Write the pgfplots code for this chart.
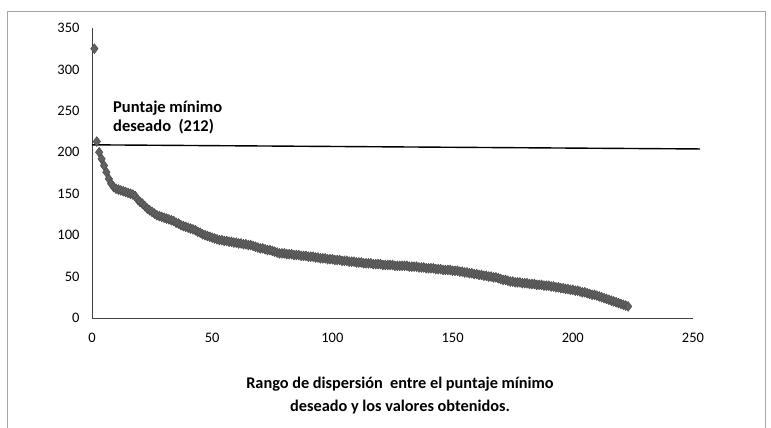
\documentclass[border=0pt]{standalone}
\usepackage{pgfplots}
\usepackage{pgfplotstable}
\pgfplotsset{compat=1.18}
\usepackage{fontspec}
\setmainfont{Carlito}
\pgfplotstableread[row sep=\\]{
y\\
325\\ 213\\ 200\\ 192\\ 184\\ 176\\ 168\\ 162\\ 158\\ 156\\
155\\ 154\\ 153\\ 152\\ 151\\ 150\\ 149\\ 147\\ 143\\ 140\\
138\\ 135\\ 132\\ 130\\ 128\\ 126\\ 124\\ 123\\ 122\\ 121\\
120\\ 119\\ 118\\ 117\\ 115\\ 114\\ 112\\ 111\\ 110\\ 109\\
108\\ 107\\ 106\\ 104\\ 103\\ 101\\ 100\\ 99\\ 98\\ 97\\
96\\ 95\\ 94\\ 94\\ 93\\ 93\\ 92\\ 92\\ 91\\ 91\\
90\\ 90\\ 89\\ 89\\ 88\\ 88\\ 87\\ 86\\ 85\\ 84\\
84\\ 83\\ 82\\ 82\\ 81\\ 80\\ 79\\ 78\\ 78\\ 78\\
77\\ 77\\ 77\\ 76\\ 76\\ 76\\ 75\\ 75\\ 75\\ 74\\
74\\ 74\\ 73\\ 73\\ 72\\ 72\\ 72\\ 71\\ 71\\ 71\\
70\\ 70\\ 70\\ 69\\ 69\\ 69\\ 68\\ 68\\ 68\\ 67\\
67\\ 67\\ 66\\ 66\\ 66\\ 66\\ 65\\ 65\\ 65\\ 65\\
64\\ 64\\ 64\\ 64\\ 64\\ 63\\ 63\\ 63\\ 63\\ 63\\
63\\ 62\\ 62\\ 62\\ 62\\ 61\\ 61\\ 61\\ 60\\ 60\\
60\\ 60\\ 59\\ 59\\ 59\\ 58\\ 58\\ 58\\ 58\\ 57\\
57\\ 57\\ 56\\ 56\\ 55\\ 55\\ 54\\ 54\\ 53\\ 53\\
52\\ 52\\ 51\\ 51\\ 50\\ 50\\ 49\\ 49\\ 48\\ 47\\
46\\ 46\\ 45\\ 44\\ 44\\ 43\\ 43\\ 43\\ 42\\ 42\\
42\\ 41\\ 41\\ 41\\ 40\\ 40\\ 40\\ 39\\ 39\\ 39\\
38\\ 38\\ 37\\ 37\\ 36\\ 36\\ 35\\ 35\\ 34\\ 34\\
33\\ 33\\ 32\\ 31\\ 31\\ 30\\ 29\\ 28\\ 28\\ 27\\
26\\ 25\\ 24\\ 23\\ 22\\ 21\\ 20\\ 19\\ 18\\ 17\\
16\\ 15\\ 14\\
}\datatable
\begin{document}
\begin{tikzpicture}
\useasboundingbox (0pt,0pt) rectangle (771pt,428pt);
\draw[black!35, line width=1pt] (7pt,0pt) -- (7pt,416pt) -- (765pt,416pt) -- (765pt,0pt);
\begin{axis}[
  at={(92pt,110pt)}, anchor=south west,
  width=601pt, height=290pt, scale only axis,
  xmin=0, xmax=250, ymin=0, ymax=350,
  axis lines=left, axis line style={-, draw=black!75, line width=0.8pt},
  xtick={0,50,...,250}, ytick={0,50,...,350},
  major tick length=0pt,
  /pgf/number format/assume math mode=true,
  tick label style={font=\fontsize{14.5}{16}\selectfont, text=black},
  xticklabel style={yshift=-12pt},
  yticklabel style={xshift=-9pt},
  clip=false,
]
\addplot[only marks, mark=diamond*, mark size=5pt, mark options={fill=black!62, draw=black!72, line width=0.4pt}]
  table[x expr=\coordindex+1, y=y] {\datatable};
\addplot[black, line width=1.4pt] coordinates {(0,209) (253,204)};
\end{axis}
\node[anchor=north west, align=left, font=\bfseries\fontsize{16.5}{19}\selectfont, inner sep=0pt] at (113pt,327pt) {Puntaje mínimo\\deseado\ \ (212)};
\node[align=center, font=\bfseries\fontsize{16.3}{23}\selectfont, inner sep=0pt] at (400pt,32pt) {Rango de dispersión\ \ entre el puntaje mínimo\\deseado y los valores obtenidos.};
\end{tikzpicture}
\end{document}
